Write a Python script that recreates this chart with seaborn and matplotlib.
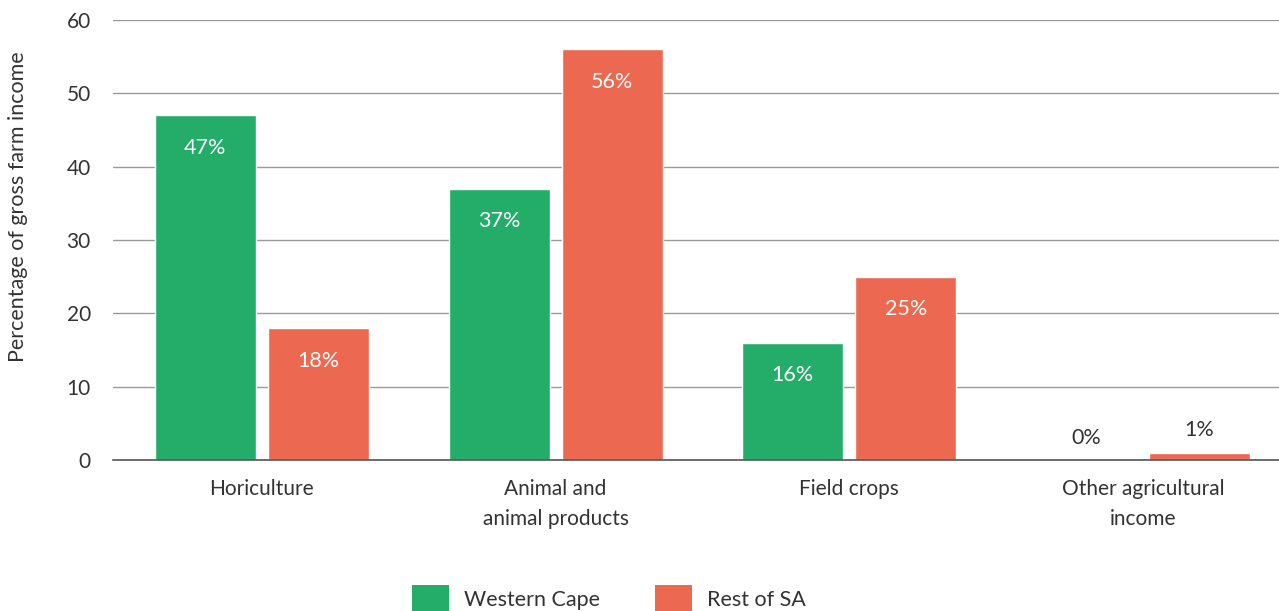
import matplotlib
matplotlib.use("Agg")
import matplotlib.pyplot as plt
import seaborn as sns
import pandas as pd

categories = ["Horiculture", "Animal and\nanimal products", "Field crops", "Other agricultural\nincome"]
western_cape = [47, 37, 16, 0]
rest_of_sa = [18, 56, 25, 1]
series_names = ["Western Cape", "Rest of SA"]
yticks = [0, 10, 20, 30, 40, 50, 60]

df = pd.DataFrame({
    "category": categories * 2,
    "value": western_cape + rest_of_sa,
    "series": [series_names[0]] * 4 + [series_names[1]] * 4,
})

sns.set_theme(style="white")
plt.rcParams["font.family"] = ["Lato", "DejaVu Sans"]
txt = "#333333"

fig = plt.figure(figsize=(12.79, 6.11), dpi=100)
ax = fig.add_axes([113 / 1279, 1 - 460 / 611, 1 - 113 / 1279, 440 / 611])

palette = {"Western Cape": "#23AD69", "Rest of SA": "#EC6850"}
sns.barplot(data=df, x="category", y="value", hue="series", palette=palette,
            width=0.77, gap=0.106, ax=ax, legend=False, saturation=1)

ax.set_ylim(0, 60)
ax.set_xlim(-0.507, 3.463)
ax.set_yticks(yticks)
ax.yaxis.grid(True, color="#9a9a9a", linewidth=1)
ax.set_axisbelow(True)
for s in ["top", "right", "left"]:
    ax.spines[s].set_visible(False)
ax.spines["bottom"].set_color("#555555")
ax.spines["bottom"].set_linewidth(1.2)
ax.tick_params(axis="both", length=0, labelsize=15, colors=txt)
ax.tick_params(axis="x", pad=14)
ax.tick_params(axis="y", pad=16)
for lab in ax.get_xticklabels():
    lab.set_linespacing(1.6)
    lab.set_verticalalignment("top")
ax.set_xlabel("")
ax.set_ylabel("Percentage of gross farm income", fontsize=15.5, color=txt)
ax.yaxis.set_label_coords(-85 / 1166, (460 - 207) / 440)

for cont in ax.containers:
    for patch in cont.patches:
        h = patch.get_height()
        x = patch.get_x() + patch.get_width() / 2
        label = f"{h:.0f}%"
        if h >= 5:
            ax.annotate(label, (x, h), xytext=(0, -23.5), textcoords="offset points",
                        ha="center", va="center", color="white", fontsize=15.5)
        else:
            ax.annotate(label, (x, h), xytext=(0, 16), textcoords="offset points",
                        ha="center", va="center", color=txt, fontsize=15.5)

from matplotlib.patches import Patch
handles = [Patch(facecolor=palette[n], edgecolor="none", label=n) for n in series_names]
fig.legend(handles=handles, loc="lower center", bbox_to_anchor=(0.476, -0.035), ncol=2,
           frameon=False, fontsize=15.5, handlelength=1.72, handleheight=1.6,
           handletextpad=0.7, columnspacing=2.55, labelcolor=txt)

fig.savefig("out.png", dpi=100)
